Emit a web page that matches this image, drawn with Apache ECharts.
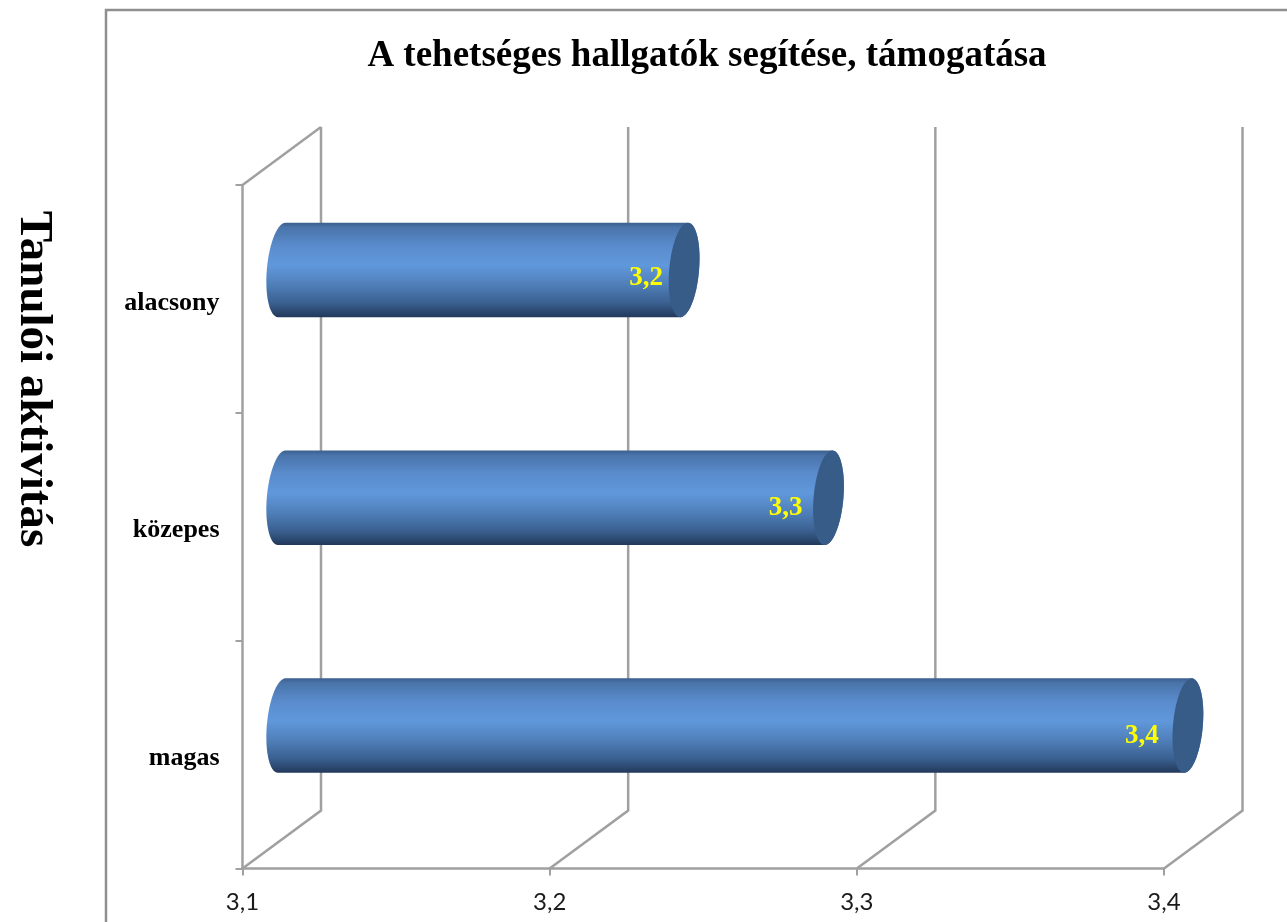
<!DOCTYPE html>
<html>
<head>
<meta charset="utf-8">
<style>html,body{margin:0;padding:0;background:#fff}#c{width:1287px;height:922px}</style>
<script src="https://cdn.jsdelivr.net/npm/echarts@6/dist/echarts.min.js"></script>
</head>
<body>
<div id="c"></div>
<script>
const categories = ['alacsony', 'közepes', 'magas'];
const values = [3.231, 3.278, 3.395];
const axisTicks = [3.1, 3.2, 3.3, 3.4];
const chartTitle = 'A tehetséges hallgatók segítése, támogatása';
const axisTitle = 'Tanulói aktivitás';

const DEPTH_X = 78.5, DEPTH_Y = 58;
const LABEL_DX = [-38, -43, -46], LABEL_DY = [8, 10, 10];
const AXIS_MIN = axisTicks[0], AXIS_MAX = axisTicks[axisTicks.length - 1];
const LINE = '#a0a0a0';
const SERIF = '"Liberation Serif","Times New Roman",serif';
const comma = v => v.toFixed(1).replace('.', ',');

function ellipsePts(cx, cy, a, b, tilt, t0, t1, n) {
  const pts = [];
  for (let i = 0; i <= n; i++) {
    const t = t0 + (t1 - t0) * i / n;
    const x = a * Math.cos(t), y = b * Math.sin(t);
    pts.push([cx + x * Math.cos(tilt) - y * Math.sin(tilt), cy + y * Math.cos(tilt)]);
  }
  return pts;
}

const chart = echarts.init(document.getElementById('c'), null, {renderer: 'canvas'});
chart.setOption({
  animation: false,
  backgroundColor: '#fff',
  title: {
    text: chartTitle, left: 706, top: 33, textAlign: 'center',
    textStyle: {fontFamily: SERIF, fontWeight: 'bold', fontSize: 37, color: '#000'}
  },
  graphic: [
    {type: 'polyline', silent: true, shape: {points: [[106, 922], [106, 10], [1287, 10]]},
      style: {stroke: '#8f8f8f', lineWidth: 2.5, fill: null}},
    {type: 'text', silent: true, x: 33, y: 379, rotation: -Math.PI / 2,
      style: {text: axisTitle, font: 'bold 47px ' + SERIF, fill: '#000', textAlign: 'center', textVerticalAlign: 'middle'}}
  ],
  grid: {left: 242.5, top: 185, width: 921.5, height: 683.5},
  xAxis: {
    type: 'value', min: AXIS_MIN, max: AXIS_MAX, interval: 0.1,
    axisLine: {show: true, lineStyle: {color: LINE, width: 2.5}},
    axisTick: {show: true, length: 7, lineStyle: {color: LINE, width: 2}},
    splitLine: {show: false},
    axisLabel: {formatter: comma, fontFamily: 'Lato', fontSize: 24, color: '#1a1a1a', margin: 22}
  },
  yAxis: {
    type: 'category', data: categories, inverse: true,
    axisLine: {show: true, lineStyle: {color: LINE, width: 2.5}},
    axisTick: {show: true, length: 7, alignWithLabel: false, lineStyle: {color: LINE, width: 2}},
    axisLabel: {fontFamily: SERIF, fontWeight: 'bold', fontSize: 26, color: '#000', margin: 23, verticalAlign: 'top', lineHeight: 8}
  },
  series: [
    {
      type: 'custom', coordinateSystem: 'cartesian2d', silent: true, clip: false, z: 1,
      data: axisTicks.map(v => [v, 0]),
      encode: {x: 0, y: 1},
      renderItem(params, api) {
        const cs = params.coordSys;
        const x = api.coord([api.value(0), 0])[0];
        const floor = cs.y + cs.height;
        const style = {stroke: LINE, lineWidth: 2.5, fill: null};
        const children = [{type: 'polyline', silent: true,
          shape: {points: [[x, floor], [x + DEPTH_X, floor - DEPTH_Y], [x + DEPTH_X, cs.y - DEPTH_Y]]}, style}];
        if (params.dataIndex === 0) {
          children.push({type: 'line', silent: true,
            shape: {x1: x, y1: cs.y, x2: x + DEPTH_X, y2: cs.y - DEPTH_Y}, style});
        }
        return {type: 'group', children};
      }
    },
    {
      type: 'custom', coordinateSystem: 'cartesian2d', silent: true, clip: false, z: 2,
      data: values.map((v, i) => [v, i]),
      encode: {x: 0, y: 1},
      renderItem(params, api) {
        const idx = api.value(1), val = api.value(0);
        const band = api.size([0, 1])[1];
        const end = api.coord([val, idx]), start = api.coord([AXIS_MIN, idx]);
        const ox = DEPTH_X / 2, oy = -DEPTH_Y / 2;
        const b = band * 0.208, a = 15, tilt = 0.08;
        const sx = start[0] + ox, ex = end[0] + ox, cy = end[1] + oy;
        const body = ellipsePts(sx, cy, a, b, tilt, -Math.PI / 2, -Math.PI * 1.5, 30)
          .concat(ellipsePts(ex, cy, a, b, tilt, Math.PI / 2, -Math.PI / 2, 30));
        const grad = new echarts.graphic.LinearGradient(0, 0, 0, 1, [
          {offset: 0, color: '#3b5f8e'},
          {offset: 0.05, color: '#4a74aa'},
          {offset: 0.25, color: '#5a8ccd'},
          {offset: 0.45, color: '#6098dc'},
          {offset: 0.65, color: '#5080ba'},
          {offset: 0.85, color: '#3a6090'},
          {offset: 1, color: '#22385a'}
        ]);
        return {type: 'group', children: [
          {type: 'polygon', silent: true, shape: {points: body}, style: {fill: grad}},
          {type: 'polygon', silent: true,
            shape: {points: ellipsePts(ex, cy, a, b, tilt, 0, Math.PI * 2, 60)},
            style: {fill: '#385c88'}},
          {type: 'text', silent: true, x: ex + LABEL_DX[params.dataIndex], y: cy + LABEL_DY[params.dataIndex],
            style: {text: comma(val), font: 'bold 27px ' + SERIF, fill: '#ffff00', textAlign: 'center', textVerticalAlign: 'middle'}}
        ]};
      }
    }
  ]
});
chart.setOption({title: {left: 702}});
</script>
</body>
</html>
